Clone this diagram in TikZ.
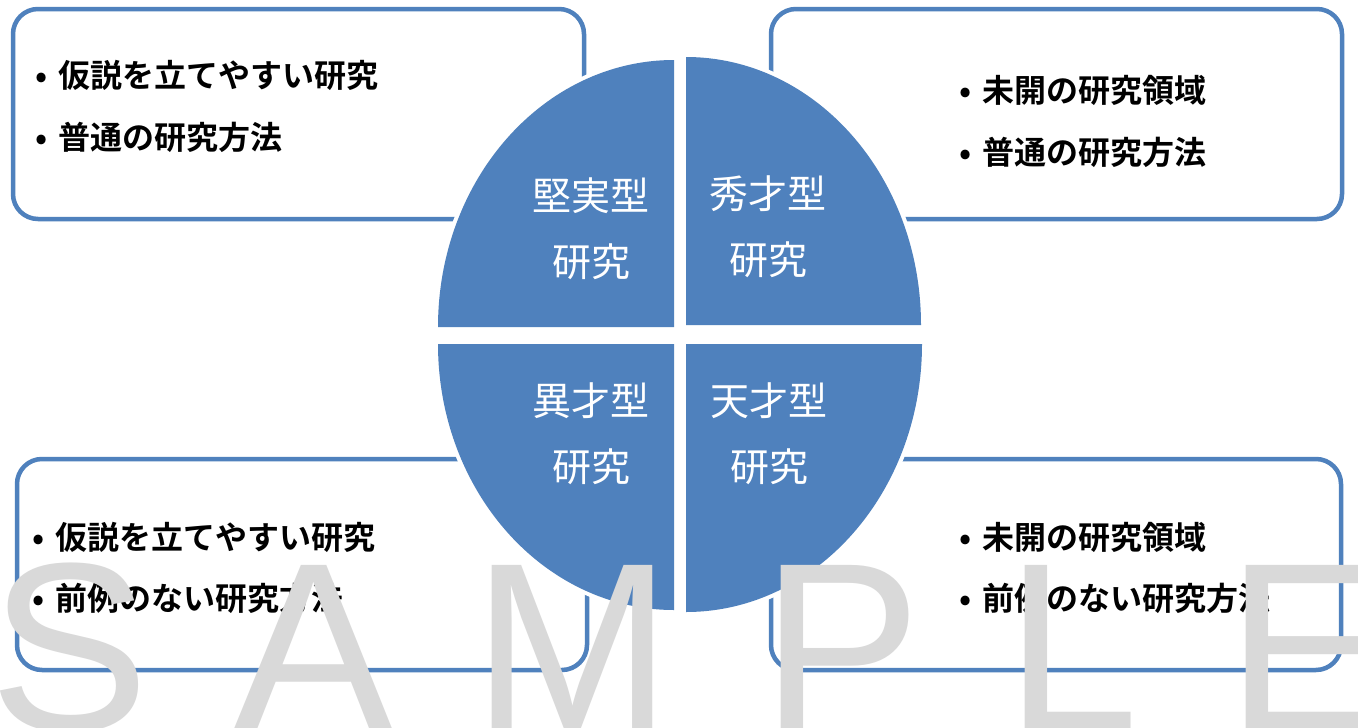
\documentclass[tikz,border=0pt]{standalone}
\usepackage{fontspec}
\newfontfamily\jp{Noto Sans CJK JP}[BoldFont={* Bold}]
\newfontfamily\wmfont{Liberation Sans}
\definecolor{qblue}{HTML}{4F81BD}
\definecolor{wmgray}{HTML}{D9D9D9}
\begin{document}
\begin{tikzpicture}[x=1pt,y=-1pt,
  box/.style={draw=qblue, line width=4.5pt, rounded corners=25pt, fill=white, inner sep=0pt},
  item/.style={anchor=west, inner sep=0pt, text=black, font=\jp\bfseries\fontsize{32}{32}\selectfont},
  qlabel/.style={align=center, inner sep=0pt, text=white, font=\jp\fontsize{39}{66}\selectfont},
  quad/.style={draw=white, line width=8pt, fill=qblue},
  wm/.style={anchor=base west, inner sep=0pt, text=wmgray, font=\wmfont\fontsize{240}{240}\selectfont}]
\useasboundingbox (0,0) rectangle (1358,728);
\fill[white] (0,0) rectangle (1358,728);
% boxes
\node[box, minimum width=571pt, minimum height=210pt] (btl) at (298.5,114) {};
\node[box, minimum width=571pt, minimum height=210pt] (btr) at (1056.5,114) {};
\node[box, minimum width=570pt, minimum height=211pt] (bbl) at (302,564.5) {};
\node[box, minimum width=570pt, minimum height=211pt] (bbr) at (1056,564.5) {};
% box texts
\node[item] (t1a) at (35,75) {\makebox[23pt][l]{•}仮説を立てやすい研究};
\node[item] (t1b) at (35,137) {\makebox[23pt][l]{•}普通の研究方法};
\node[item] (t2a) at (959,90) {\makebox[23pt][l]{•}未開の研究領域};
\node[item] (t2b) at (959,152) {\makebox[23pt][l]{•}普通の研究方法};
\node[item] (t3a) at (32,537) {\makebox[23pt][l]{•}仮説を立てやすい研究};
\node[item] (t3b) at (32,598) {\makebox[23pt][l]{•}前例のない研究方法};
\node[item] (t4a) at (959,537) {\makebox[23pt][l]{•}未開の研究領域};
\node[item] (t4b) at (959,598) {\makebox[23pt][l]{•}前例のない研究方法};
% quadrants
\path[quad] (674,327) -- ++(-236,0) arc[start angle=180,end angle=270,x radius=236,y radius=267] -- cycle;
\fill[qblue] (674,327) -- ++(-236,0) arc[start angle=180,end angle=270,x radius=236,y radius=267] -- cycle;
\path[quad] (686,325) -- ++(0,-268) arc[start angle=270,end angle=360,x radius=235,y radius=268] -- cycle;
\fill[qblue] (686,325) -- ++(0,-268) arc[start angle=270,end angle=360,x radius=235,y radius=268] -- cycle;
\path[quad] (686,344) -- ++(236,0) arc[start angle=0,end angle=90,x radius=236,y radius=268] -- cycle;
\fill[qblue] (686,344) -- ++(236,0) arc[start angle=0,end angle=90,x radius=236,y radius=268] -- cycle;
\path[quad] (674,344) -- ++(0,266) arc[start angle=90,end angle=180,x radius=236,y radius=266] -- cycle;
\fill[qblue] (674,344) -- ++(0,266) arc[start angle=90,end angle=180,x radius=236,y radius=266] -- cycle;
% quadrant labels
\node[qlabel] (q1) at (591,229) {堅実型\\研究};
\node[qlabel] (q2) at (768,227) {秀才型\\研究};
\node[qlabel] (q3) at (591,434) {異才型\\研究};
\node[qlabel] (q4) at (769,434) {天才型\\研究};
% watermark
\node[wm] (wS) at (-11,730) {S};
\node[wm] (wA) at (233,730) {A};
\node[wm] (wM) at (472,730) {M};
\node[wm] (wP) at (761,730) {P};
\node[wm] (wL) at (1005,730) {L};
\node[wm] (wE) at (1226,730) {E};
\end{tikzpicture}
\end{document}
